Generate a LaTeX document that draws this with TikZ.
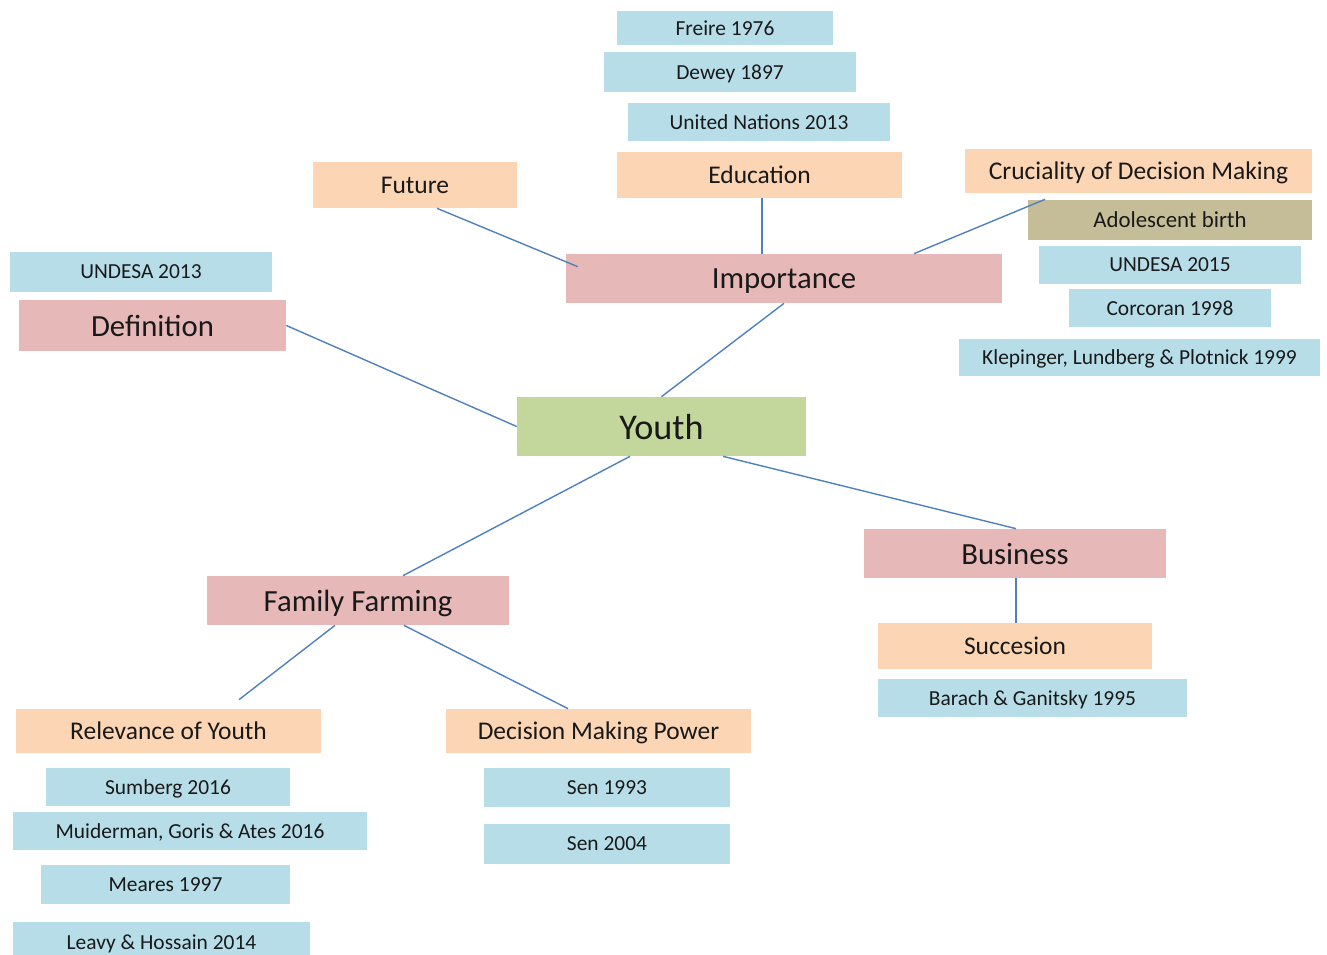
\documentclass[tikz,border=0pt]{standalone}
\usepackage{fontspec}
\setmainfont{Carlito}
\usepackage{tikz}
\usetikzlibrary{positioning}

\definecolor{refblue}{HTML}{B7DEE8}
\definecolor{peach}{HTML}{FCD5B4}
\definecolor{rose}{HTML}{E6B9B8}
\definecolor{olive}{HTML}{C3D69B}
\definecolor{khaki}{HTML}{C4BD97}
\definecolor{linkblue}{HTML}{4F81BD}

\tikzset{
  box/.style={rectangle, inner sep=0pt, text=black!90, text depth=0pt},
  refbox/.style={box, fill=refblue, font=\fontsize{12.2}{14}\selectfont},
  topic/.style={box, fill=peach, font=\fontsize{14.5}{16}\selectfont},
  theme/.style={box, fill=rose, font=\fontsize{17.5}{19}\selectfont},
  core/.style={box, fill=olive, font=\fontsize{20.6}{23}\selectfont},
  link/.style={draw=linkblue, line width=0.8pt}
}

\begin{document}
\begin{tikzpicture}[x=0.02cm, y=-0.02cm]
  \useasboundingbox (0,0) rectangle (1327,955);

  % centre and main themes
  \node[core, minimum width=5.78cm, minimum height=1.18cm] at (661.5,426.5) (youth) {Youth};
  \node[theme, minimum width=8.72cm, minimum height=0.98cm] at (784,278.5) (imp) {Importance};
  \node[theme, minimum width=5.34cm, minimum height=1.02cm] at (152.5,325.5) (def) {Definition};
  \node[theme, minimum width=6.04cm, minimum height=0.98cm] at (1015,553.5) (bus) {Business};
  \node[theme, minimum width=6.04cm, minimum height=0.98cm] at (358,600.5) (ff) {Family Farming};

  % importance
  \node[topic, minimum width=4.08cm, minimum height=0.92cm] at (415,185) (future) {Future};
  \node[topic, minimum width=5.7cm, minimum height=0.92cm] at (759.5,175) (edu) {Education};
  \node[refbox, minimum width=5.24cm, minimum height=0.76cm] at (759,122) (un) {United Nations 2013};
  \node[refbox, minimum width=5.04cm, minimum height=0.8cm] at (730,72) (dewey) {Dewey 1897};
  \node[refbox, minimum width=4.32cm, minimum height=0.68cm] at (725,28) (freire) {Freire 1976};
  \node[topic, minimum width=6.94cm, minimum height=0.88cm] at (1138.5,171) (cruc) {Cruciality of Decision Making};
  \node[box, fill=khaki, font=\fontsize{13}{15}\selectfont, minimum width=5.68cm, minimum height=0.8cm] at (1170,220) (adol) {Adolescent birth};
  \node[refbox, minimum width=5.24cm, minimum height=0.76cm] at (1170,265) (undesa15) {UNDESA 2015};
  \node[refbox, minimum width=4.04cm, minimum height=0.76cm] at (1170,308) (corc) {Corcoran 1998};
  \node[refbox, minimum width=7.22cm, minimum height=0.74cm] at (1139.5,357.5) (klep) {Klepinger, Lundberg \& Plotnick 1999};

  % definition
  \node[refbox, minimum width=5.24cm, minimum height=0.8cm] at (141,272) (undesa13) {UNDESA 2013};

  % business
  \node[topic, minimum width=5.48cm, minimum height=0.92cm] at (1015,646) (succ) {Succesion};
  \node[refbox, minimum width=6.18cm, minimum height=0.76cm] at (1032.5,698) (barach) {Barach \& Ganitsky 1995};

  % family farming
  \node[topic, minimum width=6.1cm, minimum height=0.88cm] at (168.5,731) (rel) {Relevance of Youth};
  \node[topic, minimum width=6.1cm, minimum height=0.88cm] at (598.5,731) (dmp) {Decision Making Power};
  \node[refbox, minimum width=4.92cm, minimum height=0.78cm] at (607,787.5) (sen93) {Sen 1993};
  \node[refbox, minimum width=4.92cm, minimum height=0.8cm] at (607,844) (sen04) {Sen 2004};
  \node[refbox, minimum width=4.88cm, minimum height=0.76cm] at (168,787) (sumb) {Sumberg 2016};
  \node[refbox, minimum width=7.08cm, minimum height=0.76cm] at (190,831) (muid) {Muiderman, Goris \& Ates 2016};
  \node[refbox, minimum width=4.98cm, minimum height=0.78cm] at (165.5,884.5) (meares) {Meares 1997};
  \node[refbox, minimum width=5.94cm, minimum height=0.8cm] at (161.5,942) (leavy) {Leavy \& Hossain 2014};

  % links
  \draw[link] ([xshift=0.44cm]future.south) -- ([xshift=0.24cm, yshift=-0.26cm]imp.north west);
  \draw[link] ([xshift=0.05cm]edu.south) -- ([xshift=0.05cm]edu.south |- imp.north);
  \draw[link] ([xshift=2.6cm]imp.north) -- ([xshift=-1.87cm, yshift=-0.12cm]cruc.south);
  \draw[link] (imp.south) -- (youth.north);
  \draw[link] (def.east) -- (youth.west);
  \draw[link] ([xshift=-0.63cm]youth.south) -- ([xshift=0.9cm]ff.north);
  \draw[link] ([xshift=1.23cm]youth.south) -- ([xshift=0.02cm]bus.north);
  \draw[link] ([xshift=0.02cm]bus.south) -- ([xshift=0.02cm]succ.north);
  \draw[link] ([xshift=-0.46cm]ff.south) -- ([xshift=1.41cm, yshift=0.18cm]rel.north);
  \draw[link] ([xshift=0.92cm]ff.south) -- ([xshift=-0.61cm]dmp.north);
\end{tikzpicture}
\end{document}
